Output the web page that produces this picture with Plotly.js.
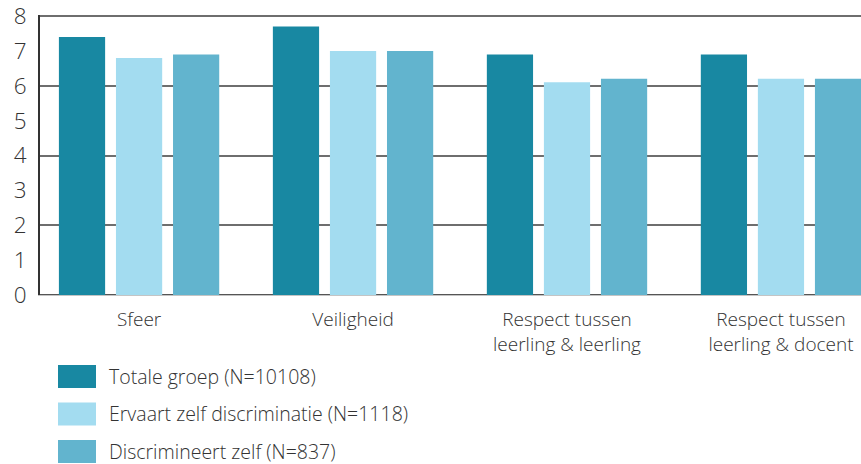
<!DOCTYPE html>
<html>
<head>
<meta charset="utf-8">
<script src="https://cdn.plot.ly/plotly-3.0.1.min.js"></script>
<style>html,body{margin:0;padding:0;background:#fff;}#chart{width:861px;height:464px;}</style>
</head>
<body>
<div id="chart"></div>
<script>
const categories = ["Sfeer", "Veiligheid", "Respect tussen<br>leerling & leerling", "Respect tussen<br>leerling & docent"];
const seriesNames = ["Totale groep (N=10108)", "Ervaart zelf discriminatie (N=1118)", "Discrimineert zelf (N=837)"];
const totaleGroep = [7.4, 7.7, 6.9, 6.9];
const ervaartZelf = [6.8, 7.0, 6.1, 6.2];
const discrimineertZelf = [6.9, 7.0, 6.2, 6.2];
const yTicks = [0, 1, 2, 3, 4, 5, 6, 7, 8];
const gridTicks = [2, 4, 6, 8];

const colors = ["#1888a2", "#a3dcf0", "#62b4ce"];
const values = [totaleGroep, ervaartZelf, discrimineertZelf];
const FONT = "'Open Sans', Lato, sans-serif";

const TOP = 15, PH = 280, LEFT = 40, PW = 821;
const fy = px => 1 - (px - TOP) / PH;
const fx = px => (px - LEFT) / PW;

const traces = values.map((v, i) => ({
  type: "bar",
  x: [0, 1, 2, 3],
  y: v,
  name: seriesNames[i],
  marker: {color: colors[i]},
  showlegend: false,
  hoverinfo: "y"
}));

// manual legend (boxes + labels) in paper coordinates
const shapes = [];
const annotations = [];
seriesNames.forEach((n, i) => {
  const yTopPx = 365 + i * 37.5;
  const y0 = fy(yTopPx), y1 = fy(yTopPx + 23);
  shapes.push({type: "rect", xref: "paper", yref: "paper",
    x0: fx(58), x1: fx(96), y0: y0, y1: y1,
    fillcolor: colors[i], line: {width: 0}});
  annotations.push({xref: "paper", yref: "paper", x: fx(108), y: (y0 + y1) / 2,
    xanchor: "left", yanchor: "middle", showarrow: false, text: n, borderpad: 0,
    font: {family: FONT, size: 19.5, color: "#333", weight: 300}});
});

const layout = {
  width: 861, height: 464,
  margin: {l: LEFT, r: 0, t: TOP, b: 464 - TOP - PH},
  paper_bgcolor: "#fff", plot_bgcolor: "#fff",
  barmode: "group",
  bargap: 0.2,
  bargroupgap: 0.19,
  xaxis: {
    range: [-0.463, 3.374],
    tickvals: [0, 1, 2, 3],
    ticktext: categories,
    tickfont: {family: FONT, size: 19, color: "#333", weight: 300},
    ticks: "outside", ticklen: 7, tickcolor: "rgba(0,0,0,0)",
    showline: true, linecolor: "#c4c4c4", linewidth: 1,
    showgrid: false, zeroline: false, fixedrange: true
  },
  yaxis: {
    range: [0, 8.03],
    tickvals: yTicks,
    tickfont: {family: FONT, size: 22.5, color: "#333", weight: 300},
    ticks: "outside", ticklen: 7, tickcolor: "rgba(0,0,0,0)",
    ticklabeloverflow: "allow",
    showline: true, linecolor: "#333", linewidth: 2,
    showgrid: false,
    minor: {tickvals: gridTicks, showgrid: true, gridcolor: "#6e6e6e", gridwidth: 2, ticks: ""},
    zeroline: true, zerolinecolor: "#555", zerolinewidth: 2,
    fixedrange: true
  },
  shapes: shapes,
  annotations: annotations,
  showlegend: false
};

Plotly.newPlot("chart", traces, layout, {displayModeBar: false, staticPlot: true});
</script>
</body>
</html>
